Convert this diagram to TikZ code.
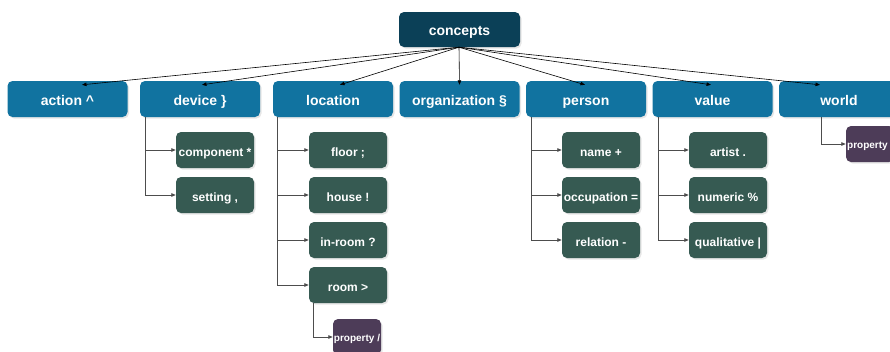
\documentclass[tikz,border=0pt]{standalone}
\usepackage{fontspec}
\setmainfont{Liberation Sans}
\usetikzlibrary{arrows.meta,shadows}
\definecolor{cdark}{HTML}{0B4057}
\definecolor{cblue}{HTML}{1173A0}
\definecolor{cgreen}{HTML}{365A52}
\definecolor{cpurple}{HTML}{4D3C58}
\definecolor{cline}{HTML}{4D4D4D}
\tikzset{
  box/.style={rounded corners=5pt, text=white, font=\bfseries, inner sep=0pt, align=center, text depth=0pt,
    drop shadow={shadow xshift=1.5pt, shadow yshift=-1.5pt, opacity=0.2}},
  rootbox/.style={box, fill=cdark, minimum width=121pt, minimum height=35pt, text height=11pt, font=\bfseries\fontsize{14}{16}\selectfont},
  topbox/.style={box, fill=cblue, minimum width=120pt, minimum height=36pt, text height=13pt, font=\bfseries\fontsize{14}{16}\selectfont},
  leafbox/.style={box, fill=cgreen, minimum width=78pt, minimum height=36pt, text height=12pt, font=\bfseries\fontsize{12}{14}\selectfont},
  propbox/.style={box, fill=cpurple, minimum width=48pt, minimum height=36pt, text height=8pt, font=\bfseries\fontsize{10}{12}\selectfont},
  toparrow/.style={draw=black, line width=0.6pt, -{Triangle[length=4.5pt,width=3.5pt]}},
  tree/.style={draw=cline, line width=0.8pt, -{Triangle[length=4.5pt,width=3.5pt]}},
}
\begin{document}
\begin{tikzpicture}[x=1pt,y=-1pt]
\useasboundingbox (0,0) rectangle (890,351);
% root
\node[rootbox] (concepts) at (459.5,29.5) {concepts};
% level 1
\node[topbox] (action) at (67.5,99) {action \textasciicircum};
\node[topbox] (device) at (200,99) {device \}};
\node[topbox] (location) at (333,99) {location};
\node[topbox] (organization) at (459.5,99) {organization \S};
\node[topbox] (person) at (586,99) {person};
\node[topbox] (value) at (712.5,99) {value};
\node[topbox] (world) at (839,99) {world};
% leaves
\node[leafbox] (component) at (215,150) {component *};
\node[leafbox] (setting) at (215,195) {setting ,};
\node[leafbox] (floor) at (348,150) {floor ;};
\node[leafbox] (house) at (348,195) {house !};
\node[leafbox] (inroom) at (348,240) {in-room ?};
\node[leafbox] (room) at (348,285) {room >};
\node[leafbox] (name) at (601,150) {name +};
\node[leafbox] (occupation) at (601,195) {occupation =};
\node[leafbox] (relation) at (601,240) {relation -};
\node[leafbox] (artist) at (728,150) {artist .};
\node[leafbox] (numeric) at (728,195) {numeric \%};
\node[leafbox] (qualitative) at (728,240) {qualitative |};
\node[propbox] (proproom) at (357,337) {property /};
\node[propbox] (propworld) at (870,144) {property \textquotesingle};
% top arrows
\coordinate (src) at ([xshift=-0.5pt]concepts.south);
\draw[toparrow] (src) -- ([xshift=14.5pt,yshift=-4pt]action.north);
\draw[toparrow] (src) -- ([xshift=2pt,yshift=-4pt]device.north);
\draw[toparrow] (src) -- ([xshift=7pt,yshift=-4pt]location.north);
\draw[toparrow] (src) -- ([yshift=-4pt]organization.north);
\draw[toparrow] (src) -- ([xshift=-1pt,yshift=-4pt]person.north);
\draw[toparrow] (src) -- ([xshift=-1.5pt,yshift=-4pt]value.north);
\draw[toparrow] (src) -- ([xshift=-19pt,yshift=-4pt]world.north);
% tree connectors
\draw[tree] ([xshift=6pt]device.south west) |- (component.west);
\draw[tree] ([xshift=6pt]device.south west) |- (setting.west);
\draw[tree] ([xshift=5pt]location.south west) |- (floor.west);
\draw[tree] ([xshift=5pt]location.south west) |- (house.west);
\draw[tree] ([xshift=5pt]location.south west) |- (inroom.west);
\draw[tree] ([xshift=5pt]location.south west) |- (room.west);
\draw[tree] ([xshift=5pt]room.south west) |- (proproom.west);
\draw[tree] ([xshift=6pt]person.south west) |- (name.west);
\draw[tree] ([xshift=6pt]person.south west) |- (occupation.west);
\draw[tree] ([xshift=6pt]person.south west) |- (relation.west);
\draw[tree] ([xshift=6pt]value.south west) |- (artist.west);
\draw[tree] ([xshift=6pt]value.south west) |- (numeric.west);
\draw[tree] ([xshift=6pt]value.south west) |- (qualitative.west);
\draw[tree] ([xshift=-18pt]world.south) |- (propworld.west);
\end{tikzpicture}
\end{document}
